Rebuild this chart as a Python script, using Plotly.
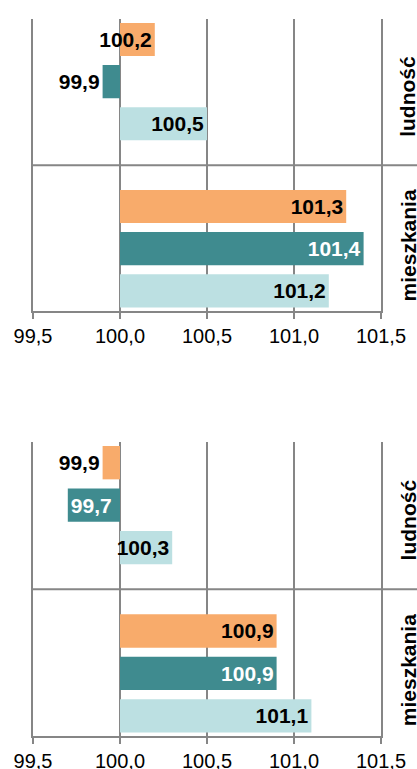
import plotly.graph_objects as go
from plotly.subplots import make_subplots

categories = ["mieszkania", "ludność"]

# gorny wykres
top_orange = [101.3, 100.2]
top_teal = [101.4, 99.9]
top_light = [101.2, 100.5]

# dolny wykres
bottom_orange = [100.9, 99.9]
bottom_teal = [100.9, 99.7]
bottom_light = [101.1, 100.3]

x_ticks = [99.5, 100.0, 100.5, 101.0, 101.5]
BASE = 100.0

ORANGE = "#F8AB6B"
TEAL = "#3F8B8F"
LIGHT = "#BCE0E2"
GRID = "#868686"
FONT = "Liberation Sans, Arial, sans-serif"


def fmt(v):
    return f"{v:.1f}".replace(".", ",")


def add_bars(fig, row, values, color, white_inside=False):
    pos = ["outside" if abs(v - BASE) < 0.15 else "inside" for v in values]
    cols = ["white" if (white_inside and p == "inside") else "black" for p in pos]
    fig.add_trace(go.Bar(
        y=categories,
        x=[v - BASE for v in values],
        base=BASE,
        orientation="h",
        marker=dict(color=color, line=dict(width=0)),
        text=[fmt(v) for v in values],
        textposition=pos,
        insidetextanchor="end",
        constraintext="none",
        cliponaxis=False,
        textfont=dict(family=FONT, size=21, color=cols, weight="bold"),
        showlegend=False,
        hoverinfo="skip",
    ), row=row, col=1)


fig = make_subplots(rows=2, cols=1)

# kolejnosc: od dolu w grupie
add_bars(fig, 1, top_light, LIGHT)
add_bars(fig, 1, top_teal, TEAL, white_inside=True)
add_bars(fig, 1, top_orange, ORANGE)
add_bars(fig, 2, bottom_light, LIGHT)
add_bars(fig, 2, bottom_teal, TEAL, white_inside=True)
add_bars(fig, 2, bottom_orange, ORANGE)

xaxis_style = dict(
    range=[99.5, 101.5],
    tickvals=x_ticks,
    tickformat=".1f",
    showgrid=True, gridcolor=GRID, gridwidth=2,
    showline=True, linecolor=GRID, linewidth=2,
    ticks="outside", ticklen=6, tickwidth=2, tickcolor=GRID,
    tickfont=dict(family=FONT, size=20, color="black"),
    zeroline=False,
    automargin=False,
    fixedrange=True,
)
yaxis_style = dict(
    range=[-0.372, 1.375],
    showgrid=False,
    showline=True, mirror=True, linecolor=GRID, linewidth=2,
    ticks="",
    showticklabels=False,
    automargin=False,
    fixedrange=True,
)

fig.update_xaxes(**xaxis_style)
fig.update_yaxes(**yaxis_style)
fig.update_layout(
    xaxis=dict(domain=[0, 1]),
    xaxis2=dict(domain=[0, 1]),
    yaxis=dict(domain=[0.593, 1.0]),
    yaxis2=dict(domain=[0.0, 0.41]),
)

# linia oddzielajaca kategorie + podpisy kategorii z prawej
label_pos = {"ludność": 0.91, "mieszkania": 0.02}
for yref, xref in [("y", "x domain"), ("y2", "x2 domain")]:
    fig.add_shape(type="line", xref=xref, yref=yref, x0=0, x1=1.12, y0=0.5, y1=0.5,
                  line=dict(color=GRID, width=2))
    for cat in categories:
        fig.add_annotation(
            xref=xref, yref=yref, x=1.078, y=label_pos[cat],
            text=cat, textangle=-90, showarrow=False,
            xanchor="center", yanchor="middle",
            font=dict(family=FONT, size=21, color="black", weight="bold"),
        )

fig.update_layout(
    width=417, height=769,
    margin=dict(l=33, r=36, t=19, b=33),
    barmode="group",
    bargap=0.243,
    bargroupgap=0.214,
    separators=", ",
    paper_bgcolor="white",
    plot_bgcolor="white",
    font=dict(family=FONT, size=20, color="black"),
)

# bez domyslnego marginesu body, zeby wykres wypelnil okno
fig.write_html("out.html",
               config={"displayModeBar": False},
               post_script="document.body.style.margin='0';document.body.style.overflow='hidden';")
